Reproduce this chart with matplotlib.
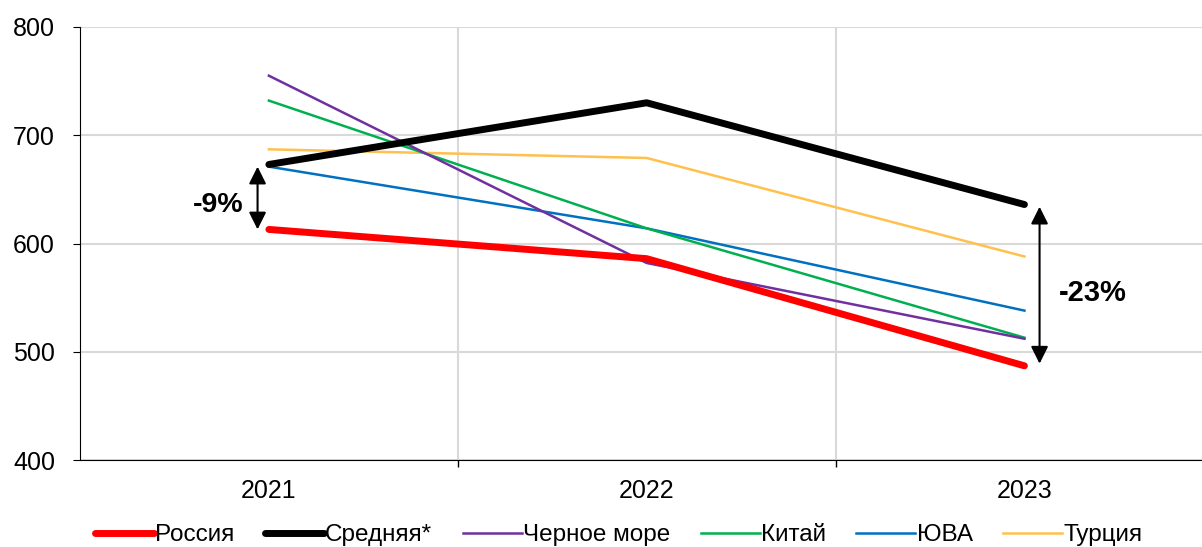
import matplotlib.pyplot as plt

plt.rcParams['font.family'] = ['Liberation Sans', 'DejaVu Sans']

years = ['2021', '2022', '2023']
russia = [613, 586, 487]
average = [673, 730, 636]
black_sea = [755, 582, 512]
china = [732, 614, 513]
sea = [671, 614, 538]
turkey = [687, 679, 588]

fig = plt.figure(figsize=(12.02, 5.47), dpi=100)
ax = fig.add_axes([80 / 1202, 1 - 460 / 547, 1 - 80 / 1202, (460 - 27) / 547])

x = range(len(years))
ax.plot(x, turkey, color='#FFC04D', lw=1.8, label='Турция', zorder=3)
ax.plot(x, sea, color='#0070C0', lw=1.8, label='ЮВА', zorder=3)
ax.plot(x, china, color='#00B050', lw=1.8, label='Китай', zorder=3)
ax.plot(x, black_sea, color='#7030A0', lw=1.8, label='Черное море', zorder=3)
ax.plot(x, average, color='black', lw=5, label='Средняя*', zorder=4,
        solid_capstyle='round')
ax.plot(x, russia, color='#FF0000', lw=5, label='Россия', zorder=5,
        solid_capstyle='round')

ax.set_ylim(400, 800)
ax.set_xlim(-0.5, 2.47)
ax.set_yticks([400, 500, 600, 700, 800])
ax.set_xticks(list(x))
ax.set_xticklabels(years)
ax.set_xticks([0.5, 1.5], minor=True)
ax.tick_params(axis='x', which='major', length=0, labelsize=18, pad=14)
ax.tick_params(axis='x', which='minor', length=5, width=1)
ax.tick_params(axis='y', labelsize=18, length=5, pad=13)
ax.grid(axis='y', color='#d9d9d9', lw=1.5)
ax.grid(axis='x', which='minor', color='#d9d9d9', lw=1.5)
for s in ['top', 'right']:
    ax.spines[s].set_visible(False)

# arrows with percentage change
ax.annotate('', xy=(-0.03, 671), xytext=(-0.03, 613),
            arrowprops=dict(arrowstyle='<|-|>', color='black', lw=1.5,
                            mutation_scale=26, shrinkA=0, shrinkB=0))
ax.text(-0.133, 636, '-9%', fontsize=20.5, fontweight='bold', ha='center', va='center')
ax.annotate('', xy=(2.04, 634), xytext=(2.04, 489),
            arrowprops=dict(arrowstyle='<|-|>', color='black', lw=1.5,
                            mutation_scale=26, shrinkA=0, shrinkB=0))
ax.text(2.18, 554, '-23%', fontsize=21, fontweight='bold', ha='center', va='center')

h, l = ax.get_legend_handles_labels()
order = [5, 4, 3, 2, 1, 0]
ax.legend([h[i] for i in order], [l[i] for i in order], loc='lower center',
          bbox_to_anchor=(0.48, -0.25), ncol=6, frameon=False, fontsize=17.5,
          handlelength=2.43, handletextpad=0.05, columnspacing=1.25)

fig.savefig('out.png', dpi=100)
